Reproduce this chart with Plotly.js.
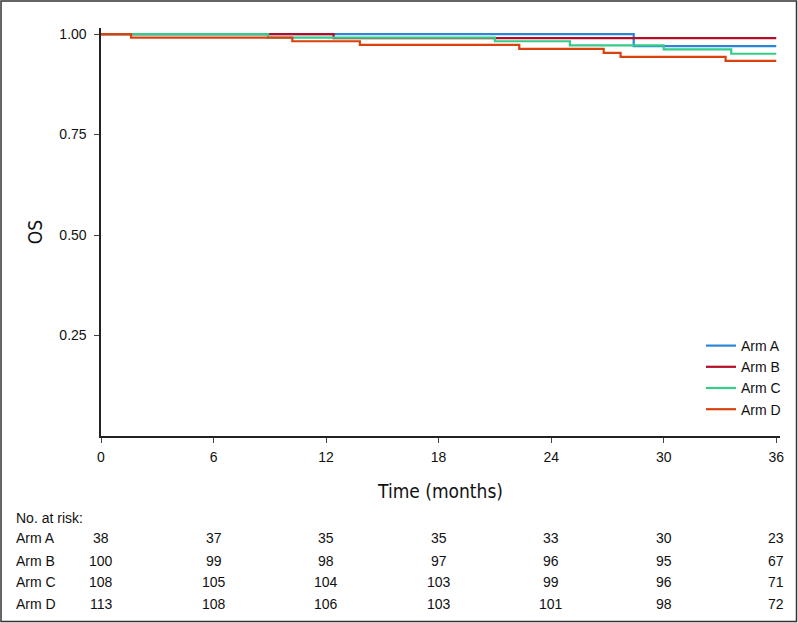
<!DOCTYPE html>
<html>
<head>
<meta charset="utf-8">
<script src="https://cdn.plot.ly/plotly-3.0.1.min.js"></script>
<style>
  html, body { margin: 0; padding: 0; background: #fff; }
  #chart { width: 798px; height: 623px; }
</style>
</head>
<body>
<div id="chart"></div>
<script>
// ---- Data ----
const armNames = ["Arm A", "Arm B", "Arm C", "Arm D"];
const armColors = ["#2b86d9", "#b30d27", "#33cc88", "#d9420f"];

const armA_time = [0, 28.4, 36];
const armA_surv = [1.0, 0.970, 0.970];

const armB_time = [0, 12.4, 36];
const armB_surv = [1.0, 0.990, 0.990];

const armC_time = [0, 8.9, 21.0, 25.0, 30.0, 33.6, 36];
const armC_surv = [1.0, 0.991, 0.982, 0.972, 0.962, 0.951, 0.951];

const armD_time = [0, 1.6, 10.2, 13.8, 22.3, 26.8, 27.7, 33.3, 36];
const armD_surv = [1.0, 0.991, 0.982, 0.973, 0.963, 0.953, 0.943, 0.933, 0.933];

const xTicks = [0, 6, 12, 18, 24, 30, 36];
const yTicks = [0.25, 0.50, 0.75, 1.00];
const yTickLabels = ["0.25", "0.50", "0.75", "1.00"];

const riskTimes = [0, 6, 12, 18, 24, 30, 36];
const riskA = [38, 37, 35, 35, 33, 30, 23];
const riskB = [100, 99, 98, 97, 96, 95, 67];
const riskC = [108, 105, 104, 103, 99, 96, 71];
const riskD = [113, 108, 106, 103, 101, 98, 72];

// ---- Build ----
const times = [armA_time, armB_time, armC_time, armD_time];
const survs = [armA_surv, armB_surv, armC_surv, armD_surv];
const risks = [riskA, riskB, riskC, riskD];

const traces = armNames.map((n, i) => ({
  type: "scatter",
  mode: "lines",
  name: n,
  x: times[i],
  y: survs[i],
  line: { shape: "hv", color: armColors[i], width: 2.2 },
  hoverinfo: "skip"
}));

const plotTop = 28, plotBottom = 436, plotLeft = 101, plotRight = 780;
const ph = plotBottom - plotTop, pw = plotRight - plotLeft;
const py = p => (plotBottom - p) / ph;   // pixel -> paper y
const px = p => (p - plotLeft) / pw;     // pixel -> paper x

const baseFont = "Liberation Sans, Arial, Helvetica, sans-serif";
const narrowFont = "Liberation Sans Narrow, DejaVu Sans Condensed, Roboto, sans-serif";
const fs = 14;

const annotations = [];
annotations.push({
  xref: "paper", yref: "paper", x: px(14), y: py(518),
  xanchor: "left", yanchor: "middle", showarrow: false,
  text: "No. at risk:", font: { family: baseFont, size: fs, color: "#111" }
});
const rowY = [538, 560.5, 582, 603.5];
armNames.forEach((n, i) => {
  annotations.push({
    xref: "paper", yref: "paper", x: px(14), y: py(rowY[i]),
    xanchor: "left", yanchor: "middle", showarrow: false,
    text: n, font: { family: baseFont, size: fs, color: "#111" }
  });
  risks[i].forEach((v, j) => {
    annotations.push({
      xref: "x", yref: "paper", x: riskTimes[j], y: py(rowY[i]),
      xanchor: "center", yanchor: "middle", showarrow: false,
      text: String(v), font: { family: baseFont, size: fs, color: "#111" }
    });
  });
});

const layout = {
  width: 798, height: 623,
  margin: { l: plotLeft, r: 798 - plotRight, t: plotTop, b: 623 - plotBottom, pad: 0 },
  paper_bgcolor: "#fff", plot_bgcolor: "#fff",
  showlegend: true,
  legend: {
    x: px(786), xanchor: "right", y: py(330), yanchor: "top",
    bgcolor: "rgba(0,0,0,0)", borderwidth: 0,
    font: { family: baseFont, size: fs, color: "#111" },
    itemwidth: 30, tracegroupgap: 0
  },
  xaxis: {
    range: [0, 36.2], tickvals: xTicks, ticktext: xTicks.map(String),
    showgrid: false, zeroline: false,
    showline: true, linecolor: "#222", linewidth: 1.6,
    ticks: "outside", ticklen: 5, tickcolor: "#444", tickwidth: 1,
    tickfont: { family: baseFont, size: fs, color: "#111" },
    ticklabelstandoff: 3,
    title: { text: "Time (months)", font: { family: narrowFont, size: 19, color: "#111" }, standoff: 20 }
  },
  yaxis: {
    range: [0, 1.015], tickvals: yTicks, ticktext: yTickLabels,
    showgrid: false, zeroline: false,
    showline: true, linecolor: "#222", linewidth: 1.6,
    ticks: "outside", ticklen: 5, tickcolor: "#444", tickwidth: 1,
    tickfont: { family: baseFont, size: fs, color: "#111" },
    ticklabelstandoff: 5,
    title: { text: "OS", font: { family: narrowFont, size: 19, color: "#111" }, standoff: 11 }
  },
  annotations: annotations,
  shapes: [{
    type: "rect", xref: "paper", yref: "paper",
    x0: px(1), x1: px(796.5), y0: py(621.5), y1: py(1),
    line: { color: "#333", width: 1.5 }, fillcolor: "rgba(0,0,0,0)", layer: "below"
  }]
};

Plotly.newPlot("chart", traces, layout, { displayModeBar: false, staticPlot: true });
</script>
</body>
</html>
